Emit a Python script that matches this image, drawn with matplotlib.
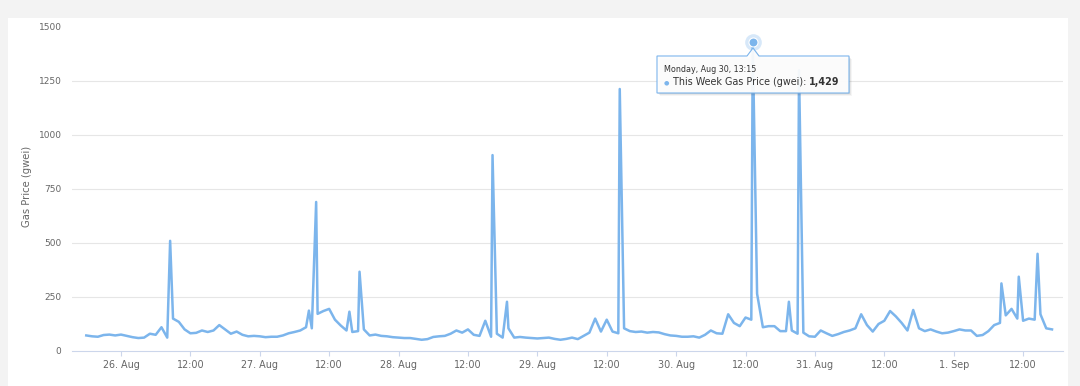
import matplotlib
matplotlib.use("Agg")
import matplotlib.pyplot as plt
from matplotlib.patches import Rectangle, Polygon
import pandas as pd

# ---------------- data ----------------
# hourly gas price (gwei), starting 25 Aug 18:00
start_time = "2021-08-25 18:00"
hourly_gwei = [
    72, 68, 66, 74, 76, 72, 76, 70, 64, 60, 62, 80, 75, 110, 62, 150, 135, 100, 82, 84, 95, 88, 95, 120,
    100, 80, 90, 75, 68, 70, 68, 64, 66, 66, 72, 82, 88, 95, 110, 105, 172, 185, 195, 145, 118, 95, 88, 92,
    100, 72, 76, 70, 68, 64, 62, 60, 60, 56, 52, 55, 65, 68, 70, 80, 95, 85, 100, 75, 70, 140, 66, 80,
    62, 105, 62, 65, 62, 60, 58, 60, 62, 56, 52, 56, 62, 55, 70, 85, 150, 90, 145, 90, 82, 105, 92, 88,
    90, 85, 88, 86, 78, 72, 70, 66, 66, 68, 62, 75, 95, 82, 80, 170, 130, 115, 155, 145, 265, 110, 115, 115,
    92, 92, 95, 80, 85, 68, 66, 95, 82, 70, 78, 88, 95, 105, 170, 120, 90, 125, 140, 185, 160, 130, 95, 190,
    105, 92, 100, 90, 82, 85, 92, 100, 95, 95, 70, 74, 92, 120, 130, 165, 195, 150, 140, 150, 145, 170, 105, 100,
]
# short-lived spikes between the hourly readings
spike_times = [
    "2021-08-26 08:30", "2021-08-27 08:30", "2021-08-27 09:45", "2021-08-27 15:30",
    "2021-08-27 17:15", "2021-08-28 16:15", "2021-08-28 18:45", "2021-08-29 14:15",
    "2021-08-30 13:15", "2021-08-30 19:30", "2021-08-30 21:15", "2021-09-01 08:15",
    "2021-09-01 11:15", "2021-09-01 14:30",
]
spike_gwei = [510, 187, 690, 182, 367, 907, 228, 1213, 1429, 228, 1300, 313, 344, 450]

tick_times = pd.date_range("2021-08-26 00:00", "2021-09-01 12:00", freq="12h")
tick_labels = ["26. Aug", "12:00", "27. Aug", "12:00", "28. Aug", "12:00", "29. Aug",
               "12:00", "30. Aug", "12:00", "31. Aug", "12:00", "1. Sep", "12:00"]
y_ticks = [0, 250, 500, 750, 1000, 1250, 1500]

hover_time = "2021-08-30 13:15"
hover_value = 1429
tooltip_header = "Monday, Aug 30, 13:15"
tooltip_series = "This Week Gas Price (gwei): "
tooltip_value = "1,429"

# ---------------- build series ----------------
base = pd.Series(hourly_gwei,
                 index=pd.date_range(start_time, periods=len(hourly_gwei), freq="h"))
spikes = pd.Series(spike_gwei, index=pd.to_datetime(spike_times))
series = pd.concat([base, spikes]).sort_index()

# ---------------- figure ----------------
W, H = 1080, 386
fig = plt.figure(figsize=(W / 100, H / 100), dpi=100)
fig.patch.set_facecolor("#f3f3f3")
fig.add_artist(Rectangle((8 / W, 0), (1068 - 8) / W, (H - 18) / H,
                         transform=fig.transFigure, facecolor="white",
                         edgecolor="none", zorder=0))

ax = fig.add_axes([72 / W, (H - 351) / H, (1063 - 72) / W, (351 - 27) / H])
ax.set_facecolor("none")

origin = pd.Timestamp("2021-08-26 00:00")
ax.set_xlim(origin - pd.Timedelta(hours=8.47), origin + pd.Timedelta(hours=162.9))
ax.set_ylim(0, 1500)

for yv in y_ticks[1:-1]:
    ax.axhline(yv, color="#e6e6e6", lw=0.8, zorder=1)

ax.plot(series.index, series.values, color="#7cb5ec", lw=1.8,
        solid_joinstyle="round", zorder=3)

# hovered point
ht = pd.Timestamp(hover_time)
ax.plot([ht], [hover_value], "o", ms=12, color="#7cb5ec", alpha=0.3,
        mec="none", zorder=4, clip_on=False)
ax.plot([ht], [hover_value], "o", ms=6.5, color="#7cb5ec", mec="white",
        mew=0.8, zorder=5, clip_on=False)

for s in ["top", "right", "left"]:
    ax.spines[s].set_visible(False)
ax.spines["bottom"].set_color("#ccd6eb")
ax.spines["bottom"].set_linewidth(0.8)

ax.set_xticks(tick_times)
ax.set_xticklabels(tick_labels)
ax.tick_params(axis="x", length=3.6, width=0.8, color="#ccd6eb",
               labelcolor="#666666", labelsize=6.9, pad=3)
ax.set_yticks(y_ticks)
ax.set_yticklabels([str(v) for v in y_ticks])
ax.tick_params(axis="y", length=0, labelcolor="#666666", labelsize=6.5, pad=7.5)

fig.text(27 / W, 1 - 186 / H, "Gas Price (gwei)", rotation=90, color="#666666",
         fontsize=7.2, ha="center", va="center")

# ---------------- tooltip (pixel overlay) ----------------
oax = fig.add_axes([0, 0, 1, 1], zorder=10)
oax.set_xlim(0, W)
oax.set_ylim(H, 0)
oax.axis("off")
oax.patch.set_visible(False)

shape = [(657, 56), (747, 56), (753, 48), (759, 56), (849, 56), (849, 93), (657, 93)]
for k, a in [(3, 0.04), (2, 0.06), (1, 0.08)]:
    oax.add_patch(Polygon([(x + k, y + k) for x, y in shape], closed=True,
                          facecolor="black", alpha=a, edgecolor="none"))
oax.add_patch(Polygon(shape, closed=True, facecolor="white", alpha=0.93,
                      edgecolor="none"))
oax.add_patch(Polygon(shape, closed=True, facecolor="none",
                      edgecolor="#7cb5ec", lw=0.8))

oax.text(664, 70, tooltip_header, fontsize=5.8, color="#333333", va="center", ha="left")
oax.text(664, 82.5, "\u25cf", fontsize=4.5, color="#7cb5ec", va="center", ha="left")
t1 = oax.text(673, 82, tooltip_series, fontsize=6.9, color="#333333",
              va="center", ha="left")
fig.canvas.draw()
bb = t1.get_window_extent()
oax.text(bb.x1, 82, tooltip_value, fontsize=6.9, color="#333333",
         fontweight="bold", va="center", ha="left")

fig.savefig("out.png", dpi=100)
